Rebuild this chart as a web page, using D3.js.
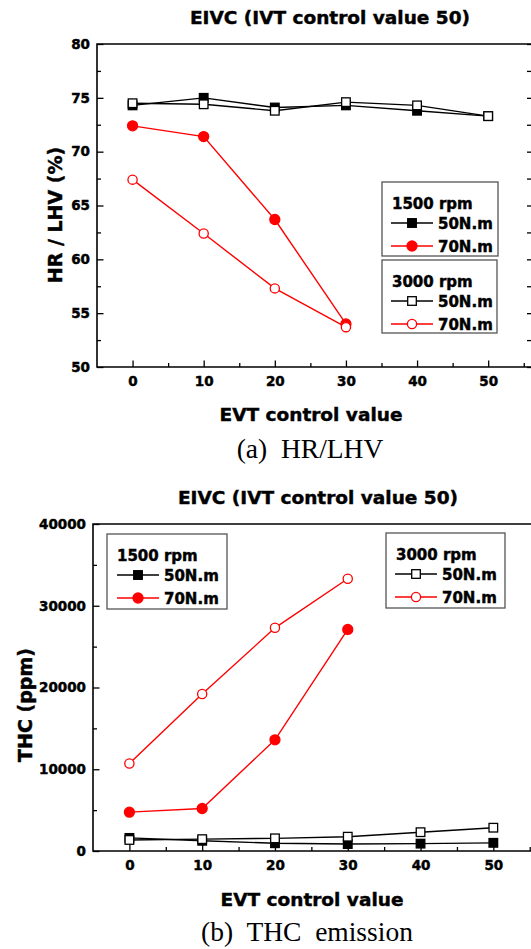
<!DOCTYPE html>
<html>
<head>
<meta charset="utf-8">
<script src="https://cdn.jsdelivr.net/npm/d3@7"></script>
<style>
  html, body { margin: 0; padding: 0; background: #fff; }
  svg { display: block; }
  .bold { font-family: "DejaVu Sans", Verdana, sans-serif; font-weight: bold; fill: #000; stroke: #000; stroke-width: 0.45px; }
  .cap { font-family: "Liberation Serif", "Times New Roman", serif; fill: #000; white-space: pre; }
</style>
</head>
<body>
<div id="chart"></div>
<script>
/* EVT control value on x, both panels */
const EVT = [0, 10, 20, 30, 40, 50];
const EVT_70 = [0, 10, 20, 30];
const EVT_TICKS = [0, 10, 20, 30, 40, 50];
const EVT_MINOR = [-5, 5, 15, 25, 35, 45, 55];

/* (a) HR/LHV, % */
const HR_1500_50 = [74.3, 75.0, 74.1, 74.3, 73.8, 73.3];
const HR_1500_70 = [72.4, 71.4, 63.7, 54.0];
const HR_3000_50 = [74.5, 74.4, 73.8, 74.6, 74.3, 73.3];
const HR_3000_70 = [67.4, 62.4, 57.3, 53.7];
const HR_TICKS = [50, 55, 60, 65, 70, 75, 80];
const HR_MINOR = [52.5, 57.5, 62.5, 67.5, 72.5, 77.5];

/* (b) THC, ppm */
const THC_1500_50 = [1600, 1250, 950, 850, 900, 1000];
const THC_1500_70 = [4750, 5200, 13600, 27100];
const THC_3000_50 = [1350, 1450, 1550, 1750, 2300, 2850];
const THC_3000_70 = [10700, 19200, 27300, 33300];
const THC_TICKS = [0, 10000, 20000, 30000, 40000];
const THC_MINOR = [5000, 15000, 25000, 35000];

const TITLE = "EIVC (IVT control value 50)";
const X_LABEL = "EVT control value";
const RED = "#ff0000";

const W = 531, H = 949;
const svg = d3.select("#chart").append("svg").attr("width", W).attr("height", H);

/* one panel = frame, ticks, 4 series, 2 legend boxes */
function drawPanel(p) {
  const x = d3.scaleLinear().domain(p.xDomain).range([p.left, p.right]);
  const y = d3.scaleLinear().domain(p.yDomain).range([p.bottom, p.top]);
  const g = svg.append("g");

  svg.append("text").attr("class", "bold").attr("x", p.titleX).attr("y", p.titleY)
    .attr("text-anchor", "middle").style("font-size", "18.5px").text(TITLE);

  /* axes: ticks point inward, domain drawn as frame below */
  const tickStyle = sel => {
    sel.select(".domain").remove();
    sel.attr("font-family", null).attr("font-size", null);
    sel.selectAll("line").attr("stroke", "#000").attr("stroke-width", 1.3);
    sel.selectAll("text").attr("class", "bold").style("font-size", "13.5px").attr("fill", "#000");
  };
  g.append("g").attr("transform", `translate(0,${p.bottom})`)
    .call(d3.axisBottom(x).tickValues(EVT_TICKS).tickSize(-6.5).tickPadding(9))
    .call(tickStyle);
  g.append("g").attr("transform", `translate(0,${p.bottom})`)
    .call(d3.axisBottom(x).tickValues(EVT_MINOR.filter(v => x(v) > p.left + 1 && x(v) < p.right - 1))
      .tickSize(-4).tickFormat(""))
    .call(tickStyle);
  g.append("g").attr("transform", `translate(${p.left},0)`)
    .call(d3.axisLeft(y).tickValues(p.yTicks).tickSize(-6.5).tickPadding(7).tickFormat(d3.format("d")))
    .call(tickStyle);
  g.append("g").attr("transform", `translate(${p.left},0)`)
    .call(d3.axisLeft(y).tickValues(p.yMinor).tickSize(-4).tickFormat(""))
    .call(tickStyle);
  g.append("g").attr("transform", `translate(${p.right},0)`)
    .call(d3.axisRight(y).tickValues(p.yTicks.concat(p.yMinor)).tickSize(-6).tickFormat(""))
    .call(tickStyle);

  g.append("path")
    .attr("d", `M${p.right},${p.top}H${p.left}V${p.bottom}H${p.right}`)
    .attr("fill", "none").attr("stroke", "#000").attr("stroke-width", 1.6);

  g.append("text").attr("class", "bold")
    .attr("transform", `translate(${p.yLabelX},${p.yLabelY}) rotate(-90)`)
    .attr("text-anchor", "middle").style("font-size", "19px").text(p.yLabel);
  g.append("text").attr("class", "bold").attr("x", p.xLabelX).attr("y", p.xLabelY)
    .attr("text-anchor", "middle").style("font-size", "18.5px").text(X_LABEL);
  g.append("text").attr("class", "cap").attr("x", p.capX).attr("y", p.capY)
    .attr("text-anchor", "middle").style("font-size", "27.5px").text(p.caption);

  const line = d3.line().x(d => x(d[0])).y(d => y(d[1]));
  p.series.forEach(s => {
    const pts = s.xs.map((v, i) => [v, s.ys[i]]);
    g.append("path").attr("d", line(pts)).attr("fill", "none")
      .attr("stroke", s.color).attr("stroke-width", 1.4);
    pts.forEach(d => marker(g, x(d[0]), y(d[1]), s));
  });

  p.legends.forEach(L => {
    const lg = svg.append("g");
    lg.append("rect").attr("x", L.x).attr("y", L.y).attr("width", L.w).attr("height", L.h)
      .attr("fill", "#fff").attr("stroke", "#555").attr("stroke-width", 1.3);
    lg.append("text").attr("class", "bold").attr("x", L.x + 10).attr("y", L.y + 27)
      .style("font-size", "15px").text(L.title);
    L.items.forEach((s, i) => {
      const cy = L.y + 41 + i * 23;
      const x0 = L.x + L.lineX;
      lg.append("line").attr("x1", x0).attr("x2", x0 + 42).attr("y1", cy).attr("y2", cy)
        .attr("stroke", s.color).attr("stroke-width", 1.4);
      marker(lg, x0 + 21, cy, s);
      lg.append("text").attr("class", "bold").attr("x", x0 + 47).attr("y", cy + 5.5)
        .style("font-size", "15px").text(s.label);
    });
  });
}

function marker(sel, cx, cy, s) {
  if (s.shape === "square") {
    sel.append("rect").attr("x", cx - 4.3).attr("y", cy - 4.3).attr("width", 8.6).attr("height", 8.6)
      .attr("fill", s.filled ? s.color : "#fff").attr("stroke", s.color).attr("stroke-width", 1.3);
  } else {
    sel.append("circle").attr("cx", cx).attr("cy", cy).attr("r", s.filled ? 5 : 4.6)
      .attr("fill", s.filled ? s.color : "#fff").attr("stroke", s.color).attr("stroke-width", 1.3);
  }
}

const sq = (filled, color, label, xs, ys) => ({ shape: "square", filled, color, label, xs, ys });
const ci = (filled, color, label, xs, ys) => ({ shape: "circle", filled, color, label, xs, ys });

/* (a) */
const a1 = sq(true, "#000", "50N.m", EVT, HR_1500_50);
const a2 = ci(true, RED, "70N.m", EVT_70, HR_1500_70);
const a3 = sq(false, "#000", "50N.m", EVT, HR_3000_50);
const a4 = ci(false, RED, "70N.m", EVT_70, HR_3000_70);
drawPanel({
  left: 97, right: 533, top: 44, bottom: 367,
  xDomain: [-5, 56.3], yDomain: [50, 80], yTicks: HR_TICKS, yMinor: HR_MINOR,
  titleX: 330, titleY: 24, yLabel: "HR / LHV (%)", yLabelX: 62, yLabelY: 215,
  xLabelX: 311, xLabelY: 421, caption: "(a)  HR/LHV", capX: 310, capY: 458,
  series: [a1, a2, a3, a4],
  legends: [
    { x: 382, y: 182, w: 116, h: 74, title: "1500 rpm", lineX: 9, items: [a1, a2] },
    { x: 382, y: 260, w: 115, h: 73, title: "3000 rpm", lineX: 9, items: [a3, a4] }
  ]
});

/* (b) */
const b1 = sq(true, "#000", "50N.m", EVT, THC_1500_50);
const b2 = ci(true, RED, "70N.m", EVT_70, THC_1500_70);
const b3 = sq(false, "#000", "50N.m", EVT, THC_3000_50);
const b4 = ci(false, RED, "70N.m", EVT_70, THC_3000_70);
drawPanel({
  left: 93, right: 537, top: 524, bottom: 851,
  xDomain: [-5, 56], yDomain: [0, 40000], yTicks: THC_TICKS, yMinor: THC_MINOR,
  titleX: 318, titleY: 504, yLabel: "THC (ppm)", yLabelX: 32, yLabelY: 705,
  xLabelX: 312, xLabelY: 906, caption: "(b)  THC  emission", capX: 307, capY: 941,
  series: [b1, b2, b3, b4],
  legends: [
    { x: 107, y: 534, w: 120, h: 75, title: "1500 rpm", lineX: 10, items: [b1, b2] },
    { x: 386, y: 533, w: 119, h: 75, title: "3000 rpm", lineX: 9, items: [b3, b4] }
  ]
});
</script>
</body>
</html>
